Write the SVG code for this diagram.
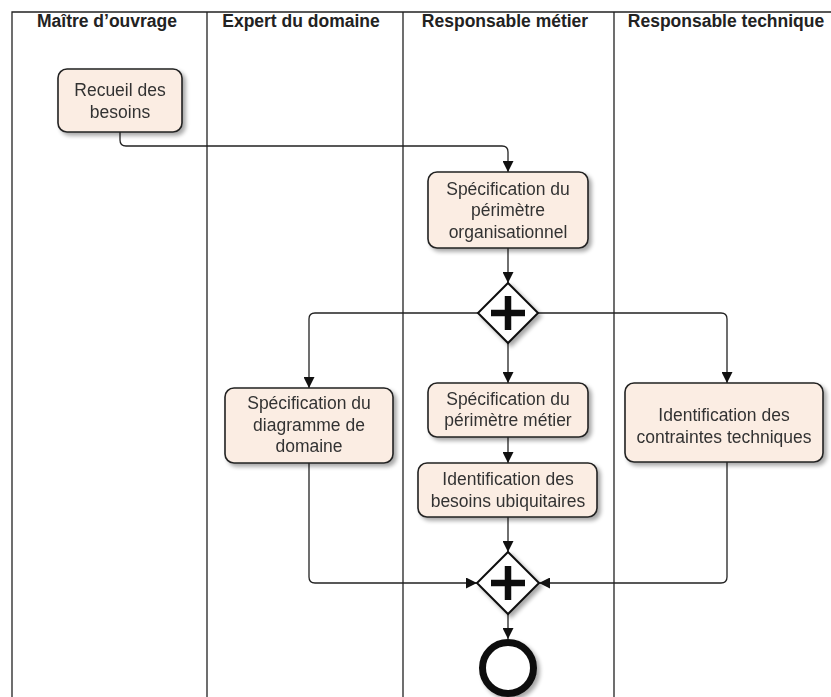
<svg xmlns="http://www.w3.org/2000/svg" width="831" height="697" viewBox="0 0 831 697">
<defs>
<filter id="sh" x="-20%" y="-20%" width="150%" height="150%">
<feGaussianBlur in="SourceAlpha" stdDeviation="2"/>
<feOffset dx="3" dy="3" result="b"/>
<feComponentTransfer><feFuncA type="linear" slope="0.35"/></feComponentTransfer>
<feMerge><feMergeNode/><feMergeNode in="SourceGraphic"/></feMerge>
</filter>
<marker id="ar" viewBox="0 0 10 10" refX="10" refY="5" markerWidth="11" markerHeight="11" markerUnits="userSpaceOnUse" orient="auto">
<path d="M0,0 L10,5 L0,10 z" fill="#111"/>
</marker>
</defs>
<style>
.lane{stroke:#222;stroke-width:1.3;fill:none}
.hdr{font-family:"Liberation Sans",Arial,sans-serif;font-weight:bold;font-size:17.5px;fill:#222;text-anchor:middle}
.box{fill:#fbede3;stroke:#222;stroke-width:1.6}
.t{font-family:"Liberation Sans",Arial,sans-serif;font-size:17.5px;fill:#333;text-anchor:middle}
.c{stroke:#222;stroke-width:1.3;fill:none}
.gw{fill:#fff;stroke:#111;stroke-width:2}
</style>
<rect width="831" height="697" fill="#fff"/>
<g id="lanes">
<path class="lane" d="M12,697 V12 H831 M207,12 V697 M403,12 V697 M614,12 V697"/>
<text class="hdr" x="107" y="27">Maître d’ouvrage</text>
<text class="hdr" x="301" y="27">Expert du domaine</text>
<text class="hdr" x="505" y="27">Responsable métier</text>
<text class="hdr" x="726" y="27">Responsable technique</text>
</g>
<g id="connectors">
<path class="c" d="M120,132 V140 Q120,146 126,146 H502 Q508,146 508,152 V172" marker-end="url(#ar)"/>
<path class="c" d="M508,248 V283" marker-end="url(#ar)"/>
<path class="c" d="M478,313 H315 Q309,313 309,319 V388" marker-end="url(#ar)"/>
<path class="c" d="M538,313 H721 Q727,313 727,319 V383" marker-end="url(#ar)"/>
<path class="c" d="M508,343 V383" marker-end="url(#ar)"/>
<path class="c" d="M508,437 V463" marker-end="url(#ar)"/>
<path class="c" d="M309,463 V577 Q309,583 315,583 H477" marker-end="url(#ar)"/>
<path class="c" d="M727,462 V577 Q727,583 721,583 H539" marker-end="url(#ar)"/>
<path class="c" d="M508,517 V552" marker-end="url(#ar)"/>
<path class="c" d="M508,614 V639" marker-end="url(#ar)"/>
</g>
<g id="recueil" filter="url(#sh)">
<rect class="box" x="58" y="69" width="124" height="63" rx="9"/>
<text class="t" x="120" y="96">Recueil des</text>
<text class="t" x="120" y="118">besoins</text>
</g>
<g id="spec-org" filter="url(#sh)">
<rect class="box" x="428" y="172" width="160" height="76" rx="9"/>
<text class="t" x="508" y="195">Spécification du</text>
<text class="t" x="508" y="216">périmètre</text>
<text class="t" x="508" y="238">organisationnel</text>
</g>
<g id="gateway-split" filter="url(#sh)">
<path class="gw" d="M508,283 L538,313 L508,343 L478,313 Z"/>
<path d="M508,296 V330 M491,313 H525" stroke="#111" stroke-width="6.5"/>
</g>
<g id="spec-diag" filter="url(#sh)">
<rect class="box" x="225" y="388" width="168" height="75" rx="9"/>
<text class="t" x="309" y="409">Spécification du</text>
<text class="t" x="309" y="431">diagramme de</text>
<text class="t" x="309" y="452">domaine</text>
</g>
<g id="spec-metier" filter="url(#sh)">
<rect class="box" x="428" y="383" width="160" height="54" rx="9"/>
<text class="t" x="508" y="405">Spécification du</text>
<text class="t" x="508" y="426">périmètre métier</text>
</g>
<g id="ubiquitaires" filter="url(#sh)">
<rect class="box" x="418" y="463" width="179" height="54" rx="9"/>
<text class="t" x="508" y="485">Identification des</text>
<text class="t" x="508" y="507">besoins ubiquitaires</text>
</g>
<g id="contraintes" filter="url(#sh)">
<rect class="box" x="625" y="383" width="198" height="79" rx="9"/>
<text class="t" x="724" y="421">Identification des</text>
<text class="t" x="724" y="443">contraintes techniques</text>
</g>
<g id="gateway-join" filter="url(#sh)">
<path class="gw" d="M508,552 L539,583 L508,614 L477,583 Z"/>
<path d="M508,566 V600 M491,583 H525" stroke="#111" stroke-width="6.5"/>
</g>
<g id="end" filter="url(#sh)">
<circle cx="508" cy="668" r="25.5" fill="#fff" stroke="#111" stroke-width="7"/>
</g>
</svg>
